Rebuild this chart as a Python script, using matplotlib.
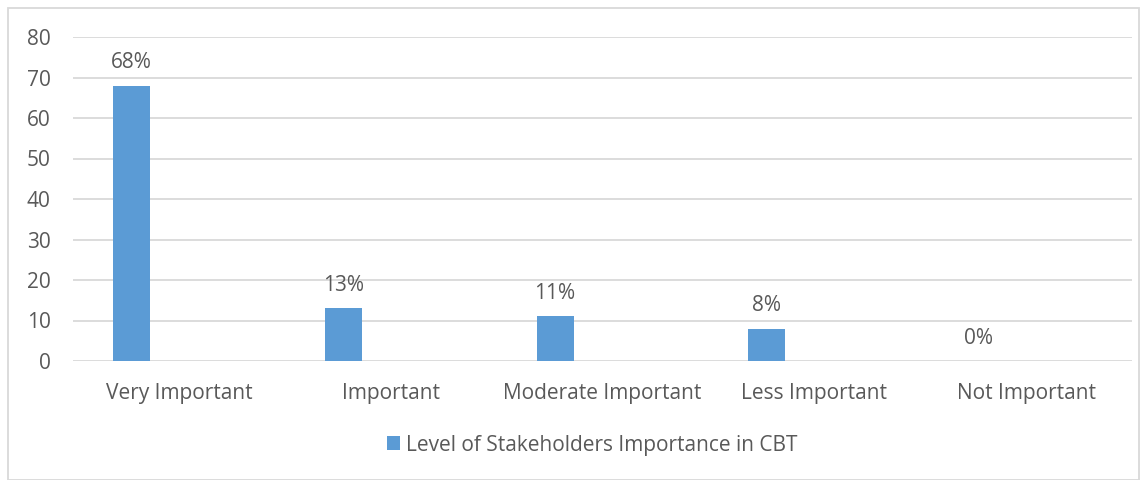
import matplotlib
matplotlib.use("Agg")
import matplotlib.pyplot as plt
from matplotlib.patches import Rectangle

categories = ["Very Important", "Important", "Moderate Important", "Less Important", "Not Important"]
values = [68, 13, 11, 8, 0]
labels = ["68%", "13%", "11%", "8%", "0%"]
series_name = "Level of Stakeholders Importance in CBT"
yticks = [0, 10, 20, 30, 40, 50, 60, 70, 80]

TEXT = "#595959"
BAR = "#5B9BD5"
GRID = "#D9D9D9"
plt.rcParams['font.family'] = ['Open Sans', 'DejaVu Sans']
FS = 15

fig = plt.figure(figsize=(11.47, 4.8), dpi=100)
ax = fig.add_axes([73/1147, 1-361/480, (1132-73)/1147, (361-37)/480])

x = list(range(len(categories)))
xb = [i - 0.224 for i in x]
bars = ax.bar(xb, values, width=0.175, color=BAR, label=series_name, zorder=3)
for xi, v, lab in zip(xb, values, labels):
    ax.annotate(lab, (xi, v), xytext=(0, 9), textcoords="offset points",
                ha="center", va="bottom", fontsize=FS, color=TEXT)

ax.set_xlim(-0.5, len(categories) - 0.5)
ax.set_ylim(0, 80)
ax.set_yticks(yticks)
ax.set_xticks(x)
ax.set_xticklabels(categories)
ax.tick_params(axis='both', length=0, labelsize=FS, colors=TEXT)
ax.tick_params(axis='y', pad=16)
ax.tick_params(axis='x', pad=16)
ax.yaxis.grid(True, color=GRID, linewidth=1.3, zorder=0)
ax.set_axisbelow(True)
for s in ax.spines.values():
    s.set_visible(False)

leg = fig.legend(handles=[bars], labels=[series_name], loc="center",
                 bbox_to_anchor=(592/1147, 1-445/480), frameon=False,
                 fontsize=FS, handlelength=0.65, handleheight=0.65,
                 handletextpad=0.25, labelcolor=TEXT)

fig.patches.append(Rectangle((8/1147, 0.5/480), 1131/1147, (472-0.5)/480,
                             transform=fig.transFigure, fill=False,
                             edgecolor=GRID, linewidth=1.3))

fig.savefig("out.png", dpi=100)
